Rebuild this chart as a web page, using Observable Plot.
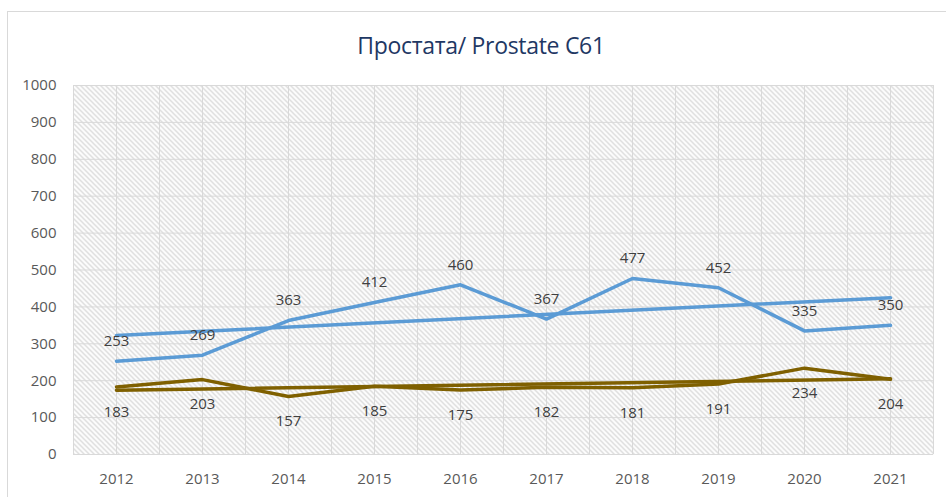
<!DOCTYPE html>
<html>
<head>
<meta charset="utf-8">
<script src="https://cdn.jsdelivr.net/npm/d3@7"></script>
<script src="https://cdn.jsdelivr.net/npm/@observablehq/plot@0.6"></script>
<style>
  html, body { margin: 0; padding: 0; background: #fff; }
  #wrap { position: relative; width: 946px; height: 497px; overflow: hidden; font-family: "Open Sans", "Liberation Sans", sans-serif; }
  #border { position: absolute; left: 7px; top: 11px; width: 960px; height: 520px; border: 1px solid #d9d9d9; box-sizing: border-box; }
  #title { position: absolute; left: 0; top: 29px; width: 962px; text-align: center; font-size: 23px; line-height: 32px; color: #1f3864; font-family: "Open Sans", sans-serif; letter-spacing: -0.3px; }
  #chart { position: absolute; left: 0; top: 70px; }
</style>
</head>
<body>
<div id="wrap">
  <div id="border"></div>
  <div id="title">Простата/ Prostate C61</div>
  <div id="chart"></div>
</div>
<script>
const years = [2012, 2013, 2014, 2015, 2016, 2017, 2018, 2019, 2020, 2021];
const blueValues = [253, 269, 363, 412, 460, 367, 477, 452, 335, 350];
const brownValues = [183, 203, 157, 185, 175, 182, 181, 191, 234, 204];
const yTicks = [0, 100, 200, 300, 400, 500, 600, 700, 800, 900, 1000];

const blueData = years.map((year, i) => ({year, value: blueValues[i]}));
const brownData = years.map((year, i) => ({year, value: brownValues[i]}));
const xGrid = years.flatMap(y => [y - 0.5, y]).concat([years[years.length - 1] + 0.5]);

const BLUE = "#5b9bd5";
const BROWN = "#7f6000";
const fmt = d => String(d);

const plot = Plot.plot({
  width: 946,
  height: 420,
  marginTop: 15,
  marginBottom: 36,
  marginLeft: 73,
  marginRight: 13,
  style: { fontFamily: "'Open Sans', sans-serif", fontSize: "15px", color: "#595959", background: "transparent" },
  x: { type: "linear", domain: [years[0] - 0.5, years[years.length - 1] + 0.5], ticks: years, tickFormat: fmt, tickSize: 0, tickPadding: 19, label: null },
  y: { domain: [0, 1000], ticks: yTicks, tickFormat: fmt, tickSize: 0, tickPadding: 17, label: null },
  marks: [
    Plot.frame({ fill: "url(#hatch)", stroke: null }),
    Plot.gridY(yTicks, { stroke: "#d9d9d9", strokeOpacity: 1, strokeWidth: 1 }),
    Plot.gridX(xGrid, { stroke: "#d9d9d9", strokeOpacity: 1, strokeWidth: 1 }),
    Plot.axisX({ ticks: years, tickFormat: fmt, tickSize: 0, tickPadding: 19, fill: "#595959", fontSize: 15 }),
    Plot.axisY({ ticks: yTicks, tickFormat: fmt, tickSize: 0, tickPadding: 17, fill: "#595959", fontSize: 15 }),
    Plot.line(blueData, { x: "year", y: "value", stroke: BLUE, strokeWidth: 3.5 }),
    Plot.line(brownData, { x: "year", y: "value", stroke: BROWN, strokeWidth: 3.5 }),
    Plot.linearRegressionY(blueData, { x: "year", y: "value", stroke: BLUE, strokeWidth: 3.5, ci: 0 }),
    Plot.linearRegressionY(brownData, { x: "year", y: "value", stroke: BROWN, strokeWidth: 3.5, ci: 0 }),
    Plot.text(blueData, { x: "year", y: "value", text: d => String(d.value), dy: -20, fill: "#404040", fontSize: 15 }),
    Plot.text(brownData, { x: "year", y: "value", text: d => String(d.value), dy: 25, fill: "#404040", fontSize: 15 })
  ]
});

// hatch pattern definition
const ns = "http://www.w3.org/2000/svg";
const defs = document.createElementNS(ns, "defs");
const pat = document.createElementNS(ns, "pattern");
pat.setAttribute("id", "hatch");
pat.setAttribute("patternUnits", "userSpaceOnUse");
pat.setAttribute("width", "5");
pat.setAttribute("height", "5");
const path = document.createElementNS(ns, "path");
path.setAttribute("d", "M0,0 L5,5 M-1,4 L1,6 M4,-1 L6,1");
path.setAttribute("stroke", "#cfcfcf");
path.setAttribute("stroke-width", "1.2");
pat.appendChild(path);
defs.appendChild(pat);
plot.insertBefore(defs, plot.firstChild);

document.getElementById("chart").appendChild(plot);
</script>
</body>
</html>
